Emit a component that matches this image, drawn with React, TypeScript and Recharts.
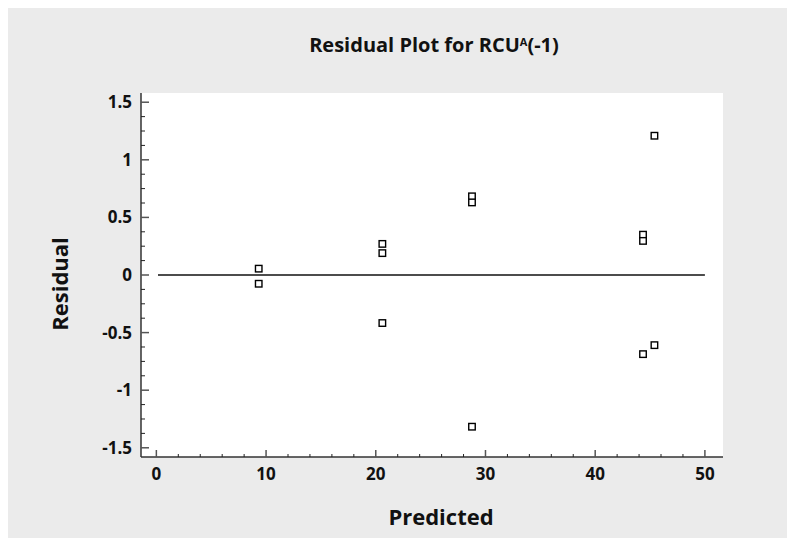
import { ReferenceLine, Scatter, ScatterChart, XAxis, YAxis } from 'recharts';

// residuals vs predicted values
const predicted = [9.33, 9.33, 20.6, 20.6, 20.6, 28.77, 28.77, 28.77, 44.36, 44.36, 44.36, 45.4, 45.4];
const residual = [0.055, -0.076, 0.27, 0.19, -0.417, 0.683, 0.63, -1.317, 0.35, 0.296, -0.687, 1.209, -0.609];

const xTicks = [0, 2, 4, 6, 8, 10, 12, 14, 16, 18, 20, 22, 24, 26, 28, 30, 32, 34, 36, 38, 40, 42, 44, 46, 48, 50];
const xLabels = [0, 10, 20, 30, 40, 50];
const yTicks = [
  -1.5, -1.375, -1.25, -1.125, -1, -0.875, -0.75, -0.625, -0.5, -0.375, -0.25, -0.125, 0,
  0.125, 0.25, 0.375, 0.5, 0.625, 0.75, 0.875, 1, 1.125, 1.25, 1.375, 1.5,
];
const yLabels = [-1.5, -1, -0.5, 0, 0.5, 1, 1.5];
const zeroLine = [
  { x: 0.15, y: 0 },
  { x: 50, y: 0 },
];

const points = predicted.map((x, i) => ({ x, y: residual[i] }));

const FONT = '"Open Sans", "Noto Sans", sans-serif';
const BG = '#ebebeb';

type TickProps = { x: number; y: number; payload: { value: number }; side: 'bottom' | 'top' | 'left' | 'right' };

function Tick({ x, y, payload, side }: TickProps) {
  const v = payload.value;
  const major = side === 'left' || side === 'right' ? yLabels.includes(v) : xLabels.includes(v);
  const len = side === 'left' || side === 'right' ? (major ? 8 : 4) : major ? 7 : 3;
  const col = major ? '#555' : '#222';
  const w = major ? 1.5 : 1;
  if (side === 'bottom')
    return (
      <g>
        <line x1={x} y1={y} x2={x} y2={y - len} stroke={col} strokeWidth={w} />
        {major && (
          <text x={x} y={y + 23} textAnchor="middle" fontSize={17} fontWeight={700} fill="#111" fontFamily={FONT}>
            {v}
          </text>
        )}
      </g>
    );
  if (side === 'top') return <line x1={x} y1={y} x2={x} y2={y + len} stroke={col} strokeWidth={w} />;
  if (side === 'right') return <line x1={x} y1={y} x2={x - len} y2={y} stroke={col} strokeWidth={w} />;
  return (
    <g>
      <line x1={x} y1={y} x2={x + len} y2={y} stroke={col} strokeWidth={w} />
      {major && (
        <text x={x - 9} y={y} dy="0.35em" textAnchor="end" fontSize={17} fontWeight={700} fill="#111" fontFamily={FONT}>
          {v}
        </text>
      )}
    </g>
  );
}

function Square(props: any) {
  const { cx, cy } = props;
  if (cx == null || cy == null) return null;
  return <rect x={cx - 3.25} y={cy - 3.25} width={6.5} height={6.5} fill="#fff" stroke="#000" strokeWidth={1.4} />;
}

export default function App() {
  return (
    <div style={{ position: 'fixed', left: 8, top: 8, right: 0, bottom: 0, background: BG, fontFamily: FONT, overflow: 'hidden' }}>
      <div
        style={{
          position: 'absolute',
          left: 0,
          width: 852,
          top: 25,
          textAlign: 'center',
          fontSize: 20,
          fontWeight: 700,
          color: '#111',
          lineHeight: '24px',
        }}
      >
        Residual Plot for RCU
        <span style={{ fontSize: 11, verticalAlign: 'top', lineHeight: '18px' }}>A</span>
        (-1)
      </div>
      <ScatterChart width={779} height={530} margin={{ top: 85, right: 64, bottom: 0, left: 0 }} style={{ position: 'absolute', left: 0, top: 0 }}>
        <rect x={133} y={85} width={582} height={364} fill="#fff" />
        <XAxis
          xAxisId="b"
          type="number"
          dataKey="x"
          domain={[-1.4, 51.65]}
          allowDataOverflow
          ticks={xTicks}
          interval={0}
          height={81}
          tickSize={0}
          tickMargin={0}
          tickLine={false}
          axisLine={{ stroke: '#333', strokeWidth: 1.5 }}
          tick={(p: any) => <Tick {...p} side="bottom" />}
          label={{
            content: (p: any) => (
              <text
                x={p.viewBox.x + p.viewBox.width / 2 + 9}
                y={p.viewBox.y + 60}
                dy="0.35em"
                textAnchor="middle"
                fontSize={22}
                fontWeight={700}
                fill="#111"
                fontFamily={FONT}
              >
                Predicted
              </text>
            ),
          }}
        />
        <XAxis
          xAxisId="t"
          orientation="top"
          type="number"
          dataKey="x"
          domain={[-1.4, 51.65]}
          allowDataOverflow
          ticks={xTicks}
          interval={0}
          height={0}
          tickSize={0}
          tickMargin={0}
          tickLine={false}
          axisLine={{ stroke: '#222', strokeWidth: 1.5 }}
          tick={(p: any) => <Tick {...p} side="top" />}
        />
        <YAxis
          yAxisId="l"
          type="number"
          dataKey="y"
          domain={[-1.58, 1.58]}
          allowDataOverflow
          ticks={yTicks}
          interval={0}
          width={133}
          tickSize={0}
          tickMargin={0}
          tickLine={false}
          axisLine={{ stroke: '#333', strokeWidth: 1.5 }}
          tick={(p: any) => <Tick {...p} side="left" />}
          label={{
            content: (p: any) => {
              const cx = p.viewBox.x + 52;
              const cy = p.viewBox.y + p.viewBox.height / 2 + 9;
              return (
                <text
                  x={cx}
                  y={cy}
                  dy="0.35em"
                  transform={`rotate(-90 ${cx} ${cy})`}
                  textAnchor="middle"
                  fontSize={22}
                  fontWeight={700}
                  fill="#111"
                  fontFamily={FONT}
                >
                  Residual
                </text>
              );
            },
          }}
        />
        <YAxis
          yAxisId="r"
          orientation="right"
          type="number"
          dataKey="y"
          domain={[-1.58, 1.58]}
          allowDataOverflow
          ticks={yTicks}
          interval={0}
          width={0}
          tickSize={0}
          tickMargin={0}
          tickLine={false}
          axisLine={{ stroke: '#777', strokeWidth: 2 }}
          tick={(p: any) => <Tick {...p} side="right" />}
        />
        <ReferenceLine
          xAxisId="b"
          yAxisId="l"
          segment={zeroLine}
          stroke="#111"
          strokeWidth={1.5}
          ifOverflow="visible"
        />
        <Scatter xAxisId="b" yAxisId="l" data={points} shape={<Square />} isAnimationActive={false} />
      </ScatterChart>
    </div>
  );
}
